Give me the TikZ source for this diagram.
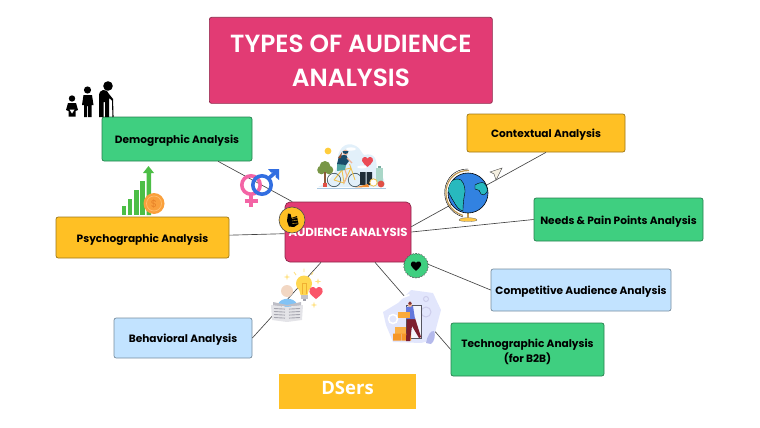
\documentclass[tikz,border=0pt]{standalone}
\usepackage{fontspec}
\setmainfont{Poppins}
\newfontfamily\dsfont{Open Sans}
\newfontfamily\titlefont{Poppins SemiBold}
\usetikzlibrary{calc,shapes.geometric}
\newcommand\dnstrut{\rule{0pt}{12.5pt}}
\definecolor{rosec}{HTML}{E23B74}
\definecolor{greenc}{HTML}{3FCF80}
\definecolor{yellowc}{HTML}{FFC024}
\definecolor{bluec}{HTML}{C2E3FF}
\definecolor{linec}{HTML}{444444}
\definecolor{chartg}{RGB}{76,190,70}
\definecolor{coin}{RGB}{250,160,60}
\definecolor{coinl}{RGB}{255,190,110}
\definecolor{coind}{RGB}{232,130,40}
\definecolor{gpink}{RGB}{243,100,165}
\definecolor{gblue}{RGB}{50,110,225}
\definecolor{sky}{RGB}{226,240,250}
\definecolor{skyl}{RGB}{170,200,225}
\definecolor{sun}{RGB}{255,205,60}
\definecolor{leaf}{RGB}{120,150,70}
\definecolor{trunk}{RGB}{140,90,60}
\definecolor{tomato}{RGB}{225,80,70}
\definecolor{wheel}{RGB}{70,90,100}
\definecolor{bike}{RGB}{240,195,80}
\definecolor{teal1}{RGB}{80,165,165}
\definecolor{navy1}{RGB}{25,75,105}
\definecolor{skin}{RGB}{240,180,150}
\definecolor{hairc}{RGB}{150,80,50}
\definecolor{dark1}{RGB}{30,45,55}
\definecolor{bottle}{RGB}{170,215,200}
\definecolor{bottled}{RGB}{120,170,160}
\definecolor{carrot}{RGB}{240,140,50}
\definecolor{hrt}{RGB}{235,75,85}
\definecolor{gold1}{RGB}{190,150,80}
\definecolor{gold2}{RGB}{255,200,70}
\definecolor{sea}{RGB}{50,130,225}
\definecolor{land}{RGB}{40,185,190}
\definecolor{plane}{RGB}{245,240,225}
\definecolor{peach}{RGB}{242,215,195}
\definecolor{shirt}{RGB}{130,195,245}
\definecolor{paper1}{RGB}{190,190,198}
\definecolor{paper2}{RGB}{228,228,232}
\definecolor{paper3}{RGB}{165,165,175}
\definecolor{bulb}{RGB}{255,215,80}
\definecolor{bulbd}{RGB}{240,175,50}
\definecolor{socket}{RGB}{195,195,200}
\definecolor{socketd}{RGB}{160,160,170}
\definecolor{hrt2}{RGB}{250,85,105}
\definecolor{ray}{RGB}{255,225,130}
\definecolor{blob}{RGB}{226,230,252}
\definecolor{blobd}{RGB}{205,205,235}
\definecolor{leaf2}{RGB}{180,185,235}
\definecolor{frame1}{RGB}{85,85,95}
\definecolor{box1}{RGB}{250,170,60}
\definecolor{box2}{RGB}{245,150,40}
\definecolor{box3}{RGB}{250,175,70}
\definecolor{pants}{RGB}{125,30,45}
\definecolor{jacket}{RGB}{100,120,220}
\definecolor{hair}{RGB}{130,50,50}
\tikzset{
  card/.style={draw=#1!62!black,line width=.7pt,rounded corners=2.2pt,align=center,font=\fontsize{10.6}{15}\selectfont\bfseries,text=black,inner sep=0pt},
  link/.style={draw=linec,line width=.65pt},
  hearticon/.pic={\fill[pic actions] (0,-3.3) .. controls (-1.8,-6.6) and (-6.9,-4.8) .. (-6,-.6) .. controls (-5.4,2.1) and (-1.8,4.2) .. (0,6) .. controls (1.8,4.2) and (5.4,2.1) .. (6,-.6) .. controls (6.9,-4.8) and (1.8,-6.6) .. (0,-3.3) -- cycle;},
  sparkle/.pic={\fill[ray] (0,-3.2) -- (.7,-.7) -- (3.2,0) -- (.7,.7) -- (0,3.2) -- (-.7,.7) -- (-3.2,0) -- (-.7,-.7) -- cycle;},
}
\begin{document}
\begin{tikzpicture}[x=1pt,y=-1pt]
\useasboundingbox (0,0) rectangle (760,428);
% nodes
\node[card=rosec,fill=rosec,minimum width=283pt,minimum height=86pt,text=white,font=\titlefont\fontsize{24.8}{34}\selectfont,anchor=north west] (title) at (209,17) {TYPES OF AUDIENCE\\ANALYSIS};
\node[card=greenc,fill=greenc,minimum width=150pt,minimum height=44pt] (dem) at (177,139) {\dnstrut Demographic Analysis};
\node[card=yellowc,fill=yellowc,minimum width=158pt,minimum height=38pt] (ctx) at (546,133) {\dnstrut Contextual Analysis};
\node[card=greenc,fill=greenc,minimum width=169pt,minimum height=43pt] (needs) at (618.5,219.5) {\dnstrut Needs \& Pain Points Analysis};
\node[card=bluec,fill=bluec,minimum width=180pt,minimum height=42pt] (comp) at (581,290) {\dnstrut Competitive Audience Analysis};
\node[card=greenc,fill=greenc,minimum width=153pt,minimum height=53pt] (tech) at (527.5,349.5) {\dnstrut Technographic Analysis\\(for B2B)};
\node[card=bluec,fill=bluec,minimum width=138pt,minimum height=40pt] (beh) at (183,338) {\dnstrut Behavioral Analysis};
\node[card=yellowc,fill=yellowc,minimum width=173pt,minimum height=41pt] (psy) at (142.5,237.5) {\dnstrut Psychographic Analysis};
\node[card=rosec,fill=rosec,rounded corners=5pt,minimum width=126pt,minimum height=60pt,text=white,font=\fontsize{11.7}{14}\selectfont\bfseries] (main) at (348,232) {\rule{0pt}{10pt}AUDIENCE ANALYSIS};
\node[fill=yellowc,minimum width=137pt,minimum height=35pt,inner sep=0pt,text=white,font=\dsfont\fontsize{18.5}{20}\selectfont\bfseries,text height=6pt,text depth=0pt] (ds) at (347.5,391.5) {DSers};
% connectors
\draw[link] (dem) -- (main);
\draw[link] (psy) -- (main);
\draw[link] (ctx.south) -- ([yshift=-25pt]main.north east);
\draw[link] (needs.west) -- (main.east);
\draw[link] (comp.west) -- ([yshift=5pt]main.south east);
\draw[link] (tech.west) -- ([xshift=27pt]main.south);
\draw[link] (beh.east) -- ([xshift=-27pt]main.south);
% people
\fill[black] (72,98.5) circle (3.2);
\fill[black] (68,103) -- (76,103) -- (78,110) -- (75.5,111) -- (75.5,116.5) -- (68.5,116.5) -- (68.5,111) -- (66,110) -- cycle;
\fill[white] (69.5,109.5) -- (74.5,109.5) -- (72,113.5) -- cycle;
\fill[black] (87.5,90) circle (3.6);
\fill[black] (83.5,95) -- (92,95) -- (93.5,105) -- (91.5,105) -- (91.5,117) -- (88.2,117) -- (88.2,106) -- (87,106) -- (87,117) -- (84,117) -- (84,105) -- (82,105) -- cycle;
\fill[black] (108,86) circle (4.8);
\fill[black] (103,90) .. controls (106,89.5) and (108,91) .. (109,94) -- (113,99) -- (112,100.5) -- (109,98) -- (109,117) -- (105,117) -- (105,102) -- (103.5,102) -- (103.5,117) -- (99,117) -- (99,96) .. controls (99,92) and (101,90.5) .. (103,90) -- cycle;
\draw[black,line width=1.1pt] (112.5,99) -- (113,117);
% chart
\foreach \a/\b/\t in {121.5/126/206,128/132/199,134/138.5/190,140/145/181}{\fill[chartg] (\a,\t) rectangle (\b,215);}
\fill[chartg] (146.5,215) -- (146.5,173) -- (143,173) -- (148.5,166) -- (154,173) -- (151,173) -- (151,215) -- cycle;
\fill[coin] (154,203.5) circle (10.5);
\draw[coinl,line width=.7pt] (154,203.5) circle (7.5);
\node[inner sep=0pt,text=coind,font=\fontsize{10}{10}\selectfont] (dollar) at (154,203.5) {\$};
% gender
\draw[gpink,line width=3.6pt] (251,185) circle (9.2);
\draw[gpink,line width=3.6pt] (251,195) -- (251,207) (244.5,201) -- (257.5,201);
\draw[gblue,line width=3.6pt] (262,185) circle (9.2);
\draw[gblue,line width=3.6pt] (269,178) -- (276,172);
\fill[gblue] (268,169) -- (279,169) -- (279,180) -- (275.5,177) -- (275.5,172.5) -- (271,172.5) -- cycle;
% thumb badge
\node[circle,draw=black!70,fill=yellowc,minimum size=26pt,inner sep=0pt,line width=.6pt] (thumb) at (292,220) {};
\fill[black] (287,221) -- (288,213.5) -- (290.5,214) -- (291.5,218) -- (297,216) -- (298.5,224) -- (294,227) -- (289,226.5) -- cycle;
\draw[yellowc,line width=.35pt] (292,218.5) -- (298,217.5) (292,221) -- (298.5,220) (292,223.5) -- (298,223);
% heart badge
\node[star,star points=26,star point ratio=1.08,draw=black!70,dashed,dash pattern=on .8pt off .5pt,fill=greenc,minimum size=25pt,inner sep=0pt,line width=.4pt] (hb) at (416,265.7) {};
\pic[black,scale=.85] at (416,265.7) {hearticon};
% cyclist scene
\fill[sky] (318,187) .. controls (330,183) and (335,172) .. (338,164) .. controls (336,150) and (345,140) .. (356,146) .. controls (362,150) and (362,154) .. (364,155) .. controls (375,152) and (378,160) .. (376,172) .. controls (385,176) and (386,184) .. (384,187) -- cycle;
\fill[white] (351,149) ellipse (5 and 1.7) (362,167) ellipse (5 and 1.5);
\draw[skyl,line width=.5pt] (317,188) -- (386,188);
\fill[sun] (328,151) circle (3.4);
\fill[leaf] (325,166.5) circle (5.5) (321.5,170) circle (4.3) (329,170) circle (4.3);
\draw[trunk,line width=1.2pt] (325,172) -- (325,185);
\fill[tomato] (322.5,183) rectangle (327,187);
\draw[wheel,line width=.7pt] (334,180) circle (6.7) (355,180) circle (6.7);
\draw[bike,line width=.9pt] (334,180) -- (342,170) -- (351,168) -- (355,180) (342,170) -- (344,183) -- (351,168) (344,183) -- (334,180) (351,168) -- (349.5,164);
\fill[teal1] (337,163) -- (346,165) -- (345,170) -- (337,171) -- cycle;
\fill[navy1] (339,156) -- (346,154.5) -- (349,161) -- (346,165) -- (337,164) -- cycle;
\fill[skin] (345.5,152.5) circle (2.8);
\fill[navy1] (342.5,151) arc (180:0:3) -- cycle;
\fill[hairc] (342,152) -- (338,158) -- (341,158) -- cycle;
\draw[skin,line width=1.1pt] (345,170) -- (347,176) -- (344,183) (347,158) -- (352,163);
\fill[dark1] (360,172) rectangle (365.5,185) (366.5,172) rectangle (372,185);
\fill[bottle] (375.5,168) rectangle (383,184);
\fill[bottled] (378,165.5) rectangle (381,168);
\fill[tomato] (381,184) circle (3.4);
\draw[bike,fill=white,line width=.8pt] (373.5,182.5) circle (3.7);
\fill[carrot] (355,187.5) -- (368,184) -- (369,187) -- cycle;
\pic[hrt,scale=.9] at (367.5,161.5) {hearticon};
% globe
\draw[gold1,line width=1.2pt] (469,170.5) .. controls (442,170) and (437,207) .. (463,215.5);
\draw[black,line width=.4pt] (468,169) .. controls (441,168.5) and (435,208) .. (463,217);
\fill[gold2,draw=black!60,line width=.3pt] (459,220) .. controls (459,217) and (477,217) .. (477,220) .. controls (477,222) and (459,222) .. (459,220) -- cycle;
\draw[gold1,line width=1.2pt] (468,213) -- (468,218);
\fill[sea,draw=black,line width=.6pt] (468,193) circle (20);
\begin{scope}
\clip (468,193) circle (20);
\fill[land,draw=black,line width=.4pt] (449,183) .. controls (453,179) and (458,178) .. (461,180) .. controls (465,184) and (465,190) .. (465,192) .. controls (464,197) and (463,203) .. (463,211) .. controls (459,210) and (456,206) .. (454,202) .. controls (451,198) and (449,192) .. (447,190) -- cycle;
\fill[land,draw=black,line width=.4pt] (475,185) .. controls (478,183) and (482,182) .. (484,183) .. controls (487,186) and (488,190) .. (487,192) .. controls (485,195) and (482,196) .. (481,194) .. controls (481,191) and (478,189) .. (475,189) -- cycle;
\end{scope}
% plane
\fill[plane,draw=black!70,line width=.45pt] (502,168) -- (490,172) -- (494,174) -- (496,180) -- cycle;
% newspaper person
\fill[peach] (287,291) circle (6);
\fill[shirt] (278,304) .. controls (281,297) and (294,297) .. (297,304) -- (288,308) -- cycle;
\fill[paper1] (273,302) -- (287,305) -- (301,302) -- (301,306) -- (273,306) -- cycle;
\fill[paper2] (271,305) -- (287,307) -- (303,305) -- (302,320) -- (287,322) -- (272,320) -- cycle;
\foreach \y in {308.5,311.5,314.5,317.5}{\draw[paper3,line width=.9pt] (274,\y) -- (285,\y+.6) (289,\y+.6) -- (300,\y);}
% bulb
\fill[bulb] (304,283.5) circle (8);
\fill[bulb] (298.5,287) -- (309.5,287) -- (307.5,295) -- (300.5,295) -- cycle;
\fill[socket] (300.5,295) rectangle (307.5,299);
\fill[socketd] (302.5,299) rectangle (305.5,301);
\draw[bulbd,line width=.6pt] (302,294) -- (302,283) (306,294) -- (306,283) (302,283) -- (306,283);
\pic[hrt2,scale=1.1] at (316,292.5) {hearticon};
\pic at (287,277) {sparkle};
\pic at (318,281.5) {sparkle};
\pic at (314,305) {sparkle};
\draw[ray,line width=.9pt] (294,272) -- (296,275) (304,268.5) -- (304,272) (313,272) -- (311.5,275);
% tech illustration
\fill[blob] (383,312) -- (398,303) -- (411,290) -- (433,293) -- (441,310) -- (433,340) -- (421,343) -- (393,342) -- (386,325) -- cycle;
\draw[white,line width=1.8pt,line cap=round] (401,298) -- (409,295);
\draw[blobd,line width=1pt] (426,299) circle (2.5) (426,312) circle (5);
\draw[white,line width=1.5pt] (393,319) circle (4.5);
\fill[leaf2] (426,343) .. controls (427,336) and (431,330) .. (434,331) .. controls (436,336) and (434,342) .. (431,344) -- cycle;
\draw[frame1,line width=.4pt,fill=white,fill opacity=.65] (406,305) rectangle (421,338);
\fill[box3] (395,327) rectangle (406,333.5);
\fill[box2] (393,333.5) rectangle (401,340.5) (401.5,333.5) rectangle (411,340.5);
\fill[pants] (407,318) -- (415,318) -- (421,337) -- (419,338) -- (412,326) -- (410,341) -- (406,341) -- cycle;
\fill[jacket] (406,307) -- (413,306) -- (415,319) -- (406,319) -- cycle;
\fill[box1] (398,312) rectangle (410,317.5);
\fill[skin] (410,305) circle (2);
\fill[hair] (410,303.3) circle (1.9);
\end{tikzpicture}
\end{document}
